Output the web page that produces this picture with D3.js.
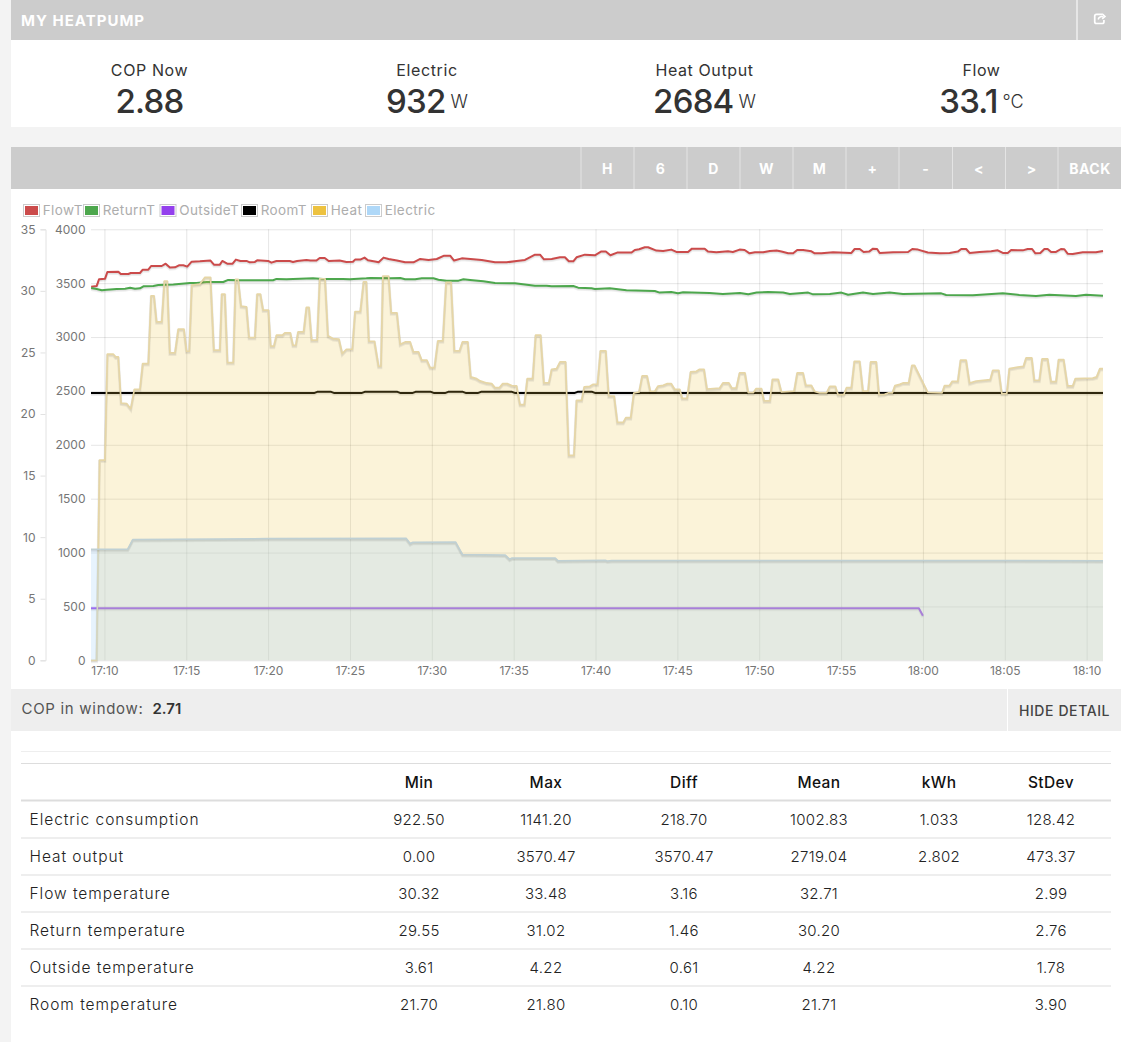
<!DOCTYPE html>
<html>
<head>
<meta charset="utf-8">
<title>My Heatpump</title>
<script src="https://cdn.jsdelivr.net/npm/d3@7"></script>
<style>
    html, body { margin: 0; padding: 0; background: #f3f3f3; overflow: hidden; }
    svg { display: block; }
    text { font-family: Inter, "Noto Sans", sans-serif; }
    .tick-labels text { fill: #767676; font-size: 12px; }
    .grid line { stroke: #000; stroke-opacity: 0.1; }
    .grid path, .plain path { display: none; }
</style>
</head>
<body>
<div id="chart"></div>
<script>
// minutes after 17:00, value
const flowT = [[9.19,30.34],[9.53,30.40],[9.67,30.94],[10.04,30.99],[10.18,31.53],[10.85,31.56],[11.00,31.37],[11.46,31.37],[11.61,31.45],[12.17,31.45],[12.34,31.72],[12.68,31.72],[12.85,32.02],[13.50,32.02],[13.74,32.21],[14.00,31.89],[14.31,31.91],[14.55,32.08],[14.82,32.08],[15.06,31.97],[15.33,32.37],[15.83,32.40],[16.48,32.46],[16.69,32.13],[17.05,32.13],[17.20,32.43],[17.50,32.21],[17.83,32.21],[18.03,32.54],[18.31,32.43],[18.68,32.43],[18.88,32.32],[19.19,32.35],[19.33,32.48],[20.00,32.43],[20.20,32.29],[20.51,32.43],[21.32,32.43],[21.52,32.35],[21.77,32.43],[22.34,32.51],[22.58,32.46],[22.95,32.46],[23.15,32.67],[23.46,32.67],[23.70,32.43],[24.37,32.46],[24.78,32.35],[25.18,32.37],[25.31,32.54],[25.63,32.54],[25.89,32.70],[26.10,32.48],[26.61,32.37],
    [26.75,32.32],[27.05,32.70],[27.36,32.59],[27.87,32.46],[28.37,32.32],[28.88,32.32],[29.29,32.59],[29.80,32.51],[30.30,32.59],[30.75,32.86],[31.12,32.86],[31.36,32.46],[31.83,32.64],[32.54,32.56],[33.05,32.51],[33.86,32.32],[34.57,32.32],[35.18,32.43],[35.69,32.51],[36.30,32.94],[36.61,32.94],[36.85,32.56],[37.32,32.59],[37.83,32.73],[38.13,32.73],[38.37,32.40],[38.64,32.40],[38.84,32.73],[39.35,32.94],[39.96,32.89],[40.33,33.19],[40.63,33.19],[40.91,32.89],[41.32,33.11],[42.20,33.11],[42.40,33.32],[42.66,33.38],[43.01,33.54],[43.21,33.54],[43.72,33.27],[44.13,33.24],[44.63,33.35],[44.94,33.16],[45.65,33.16],[45.89,33.43],[46.67,33.43],[46.87,33.19],[47.38,33.13],[48.09,33.21],[48.39,33.16],[48.80,33.35],[49.11,33.32],[49.41,33.05],
    [49.74,33.13],[50.24,33.13],[50.65,33.24],[51.06,33.27],[51.36,33.19],[51.77,33.05],[52.07,33.05],[52.32,33.32],[52.68,33.32],[53.19,33.21],[53.39,33.05],[53.80,33.05],[54.51,33.13],[55.63,33.08],[55.83,33.40],[56.14,33.40],[56.38,33.16],[56.71,33.19],[56.95,33.43],[57.20,33.40],[57.36,33.08],[58.17,33.13],[59.09,33.16],[59.35,33.40],[59.70,33.35],[60.30,33.11],[61.02,33.05],[61.63,33.08],[62.13,33.19],[62.34,33.40],[62.64,33.40],[62.85,33.08],[63.46,33.16],[64.17,33.21],[64.57,33.29],[64.88,33.08],[65.18,33.08],[65.39,33.32],[66.10,33.29],[66.40,33.40],[66.67,33.40],[66.87,33.05],[67.17,33.08],[67.42,33.40],[67.62,33.40],[67.83,33.16],[68.13,33.16],[68.43,33.40],[68.64,33.38],[68.84,33.02],[69.15,33.00],[69.76,33.13],[70.57,33.13],[71.00,33.24]];

const returnT = [[9.19,30.24],[9.53,30.15],[9.84,30.05],[10.14,30.10],[10.75,30.15],[11.26,30.18],[11.57,30.26],[11.87,30.18],[12.17,30.21],[12.38,30.37],[12.99,30.40],[13.29,30.48],[14.21,30.51],[15.22,30.64],[15.63,30.64],[16.24,30.72],[17.26,30.72],[17.56,30.89],[18.27,30.86],[20.30,30.86],[20.51,30.97],[21.12,30.94],[22.74,31.02],[23.35,30.97],[24.57,30.97],[24.98,30.94],[26.00,31.02],
    [26.24,31.05],[27.46,31.02],[28.07,31.05],[28.37,30.94],[28.98,30.94],[29.39,31.02],[30.10,31.02],[30.41,30.91],[30.91,30.83],[31.63,30.83],[31.93,30.94],[32.34,30.89],[33.15,30.78],[33.86,30.64],[35.08,30.61],[36.30,30.42],[37.01,30.42],[37.32,30.37],[38.64,30.40],[38.94,30.26],[39.76,30.21],[39.96,30.15],[40.87,30.21],[41.89,30.05],[43.62,29.99],[43.92,29.86],[44.63,29.91],[45.04,29.80],[45.35,29.88],[46.97,29.83],[47.78,29.75],[48.82,29.83],
    [49.33,29.72],[49.84,29.86],[50.55,29.91],[51.46,29.86],[51.87,29.75],[52.99,29.86],[53.29,29.72],[54.31,29.75],[55.02,29.86],[55.43,29.69],[56.34,29.86],[56.95,29.75],[57.97,29.86],[58.78,29.75],[61.12,29.80],[61.42,29.67],[63.05,29.64],[64.88,29.80],[65.89,29.67],[66.91,29.59],[67.72,29.69],[69.35,29.59],[69.96,29.69],[71.00,29.61]];

const outsideT = [[9.18,4.22],[59.75,4.22],[60.00,3.61]];

const roomT = [[9.18,21.7],[22.8,21.7],[23.0,21.8],[23.85,21.8],[24.05,21.7],[25.7,21.7],[25.9,21.8],[27.9,21.8],[28.1,21.7],[28.8,21.7],[29.0,21.8],[29.95,21.8],[30.15,21.7],[30.8,21.7],[31.0,21.8],[31.9,21.8],[32.1,21.7],[32.8,21.7],[33.0,21.8],[34.9,21.8],[35.1,21.7],[38.7,21.7],[38.9,21.8],[39.8,21.8],[40.0,21.7],[71.0,21.7]];

const heat = [[9.18,0],[9.52,0],[9.70,1858],[10.03,1858],[10.18,2841],[10.55,2841],[10.69,2816],[10.85,2816],[11.02,2388],[11.36,2382],[11.61,2335],[11.83,2515],[12.17,2515],[12.34,2754],[12.68,2754],[12.85,3383],[13.03,3383],[13.19,3141],[13.50,3141],[13.66,3520],[13.84,3520],[14.00,2853],[14.31,2853],[14.51,3073],[14.86,3073],[15.02,2868],[15.18,2868],[15.33,3482],[15.83,3492],[16.14,3554],[16.48,3554],[16.69,2878],[17.05,2878],[17.17,3399],[17.36,3399],[17.52,2763],[17.87,2763],[18.01,3535],[18.17,3535],[18.35,3287],[18.68,3281],[18.84,2996],[19.19,2996],[19.33,3399],[19.53,3399],[19.70,3250],[20.02,3250],[20.16,2915],[20.35,2915],[20.51,3017],[20.87,3017],[21.02,3039],[21.36,3039],[21.52,2924],[21.69,2924],[21.83,3048],[22.17,3048],[22.34,3275],[22.50,3275],[22.66,2971],[22.99,2971],[23.15,3541],[23.48,3541],[23.66,3011],[23.96,2986],[24.33,2980],[24.53,2847],[24.78,2887],[25.14,2887],[25.31,3237],[25.63,3237],[25.83,3513],[26.00,3513],[26.16,2961],[26.50,2961],
    [26.75,2729],[26.89,2729],[27.01,3566],[27.36,3566],[27.52,3225],[27.87,3225],[28.07,2934],[28.37,2955],[28.68,2955],[28.88,2862],[29.19,2862],[29.39,2785],[29.70,2785],[29.90,2717],[30.16,2717],[30.37,2965],[30.67,2965],[30.87,3507],[31.18,3507],[31.38,2872],[31.69,2872],[31.87,2955],[32.20,2955],[32.38,2630],[32.74,2614],[32.95,2593],[33.35,2574],[33.66,2568],[33.86,2531],[34.13,2531],[34.33,2568],[34.61,2568],[34.88,2549],[35.18,2546],[35.39,2373],[35.65,2373],[35.83,2614],[36.16,2614],[36.34,3017],[36.65,3017],[36.85,2574],[37.15,2574],[37.32,2701],[37.62,2707],[37.83,2769],[38.17,2769],[38.37,1901],[38.68,1901],[38.84,2413],[39.15,2413],[39.31,2537],[39.65,2543],[39.86,2562],[40.12,2562],[40.30,2872],[40.63,2872],[40.81,2453],[41.14,2453],[41.34,2208],[41.69,2208],[41.85,2252],[42.15,2252],[42.34,2481],[42.66,2490],[42.85,2639],[43.15,2639],[43.35,2497],[43.62,2497],[43.82,2546],[44.13,2552],[44.39,2568],[44.63,2568],[44.84,2515],[45.14,2515],[45.30,2431],[45.59,2431],[45.81,2676],[46.16,2682],[46.36,2701],[46.63,2701],[46.81,2518],[47.58,2527],[47.78,2574],[48.15,2574],[48.33,2527],[48.60,2527],[48.80,2667],
    [49.13,2667],[49.33,2484],[49.63,2484],[49.80,2521],[50.14,2521],[50.30,2407],[50.65,2407],[50.81,2608],[51.16,2608],[51.36,2490],[52.13,2499],[52.32,2667],[52.68,2667],[52.85,2552],[53.19,2552],[53.39,2496],[53.70,2481],[54.11,2481],[54.31,2543],[54.65,2543],[54.82,2465],[55.16,2465],[55.33,2530],[55.63,2530],[55.81,2775],[56.14,2775],[56.34,2499],[56.65,2499],[56.81,2769],[57.15,2769],[57.32,2465],[57.66,2468],[57.87,2481],[58.13,2481],[58.29,2549],[58.58,2561],[58.78,2574],[59.13,2574],[59.33,2738],[59.49,2738],[60.30,2487],[61.16,2481],[61.32,2549],[61.63,2552],[61.79,2589],[62.13,2589],[62.30,2785],[62.64,2785],[62.85,2574],[63.25,2592],[64.11,2605],[64.27,2692],[64.63,2692],[64.82,2475],[65.12,2475],[65.28,2707],[65.79,2722],[66.14,2729],[66.30,2806],[66.65,2806],[66.81,2599],[67.11,2599],[67.28,2797],[67.62,2797],[67.83,2586],[68.13,2586],[68.29,2791],[68.60,2791],[68.84,2546],[69.15,2546],[69.31,2614],[70.37,2620],[70.61,2630],[70.81,2707],[71.00,2707]];

const electric = [[9.18,1031],[11.42,1031],[11.73,1121],[20.00,1130],[28.43,1133],[28.68,1084],[28.84,1096],[31.45,1099],[31.88,981],[34.49,978],[34.76,938],[34.90,950],[37.54,950],[37.70,925],[40.59,929],[40.73,922],[40.99,926],[71.00,925]];

const tempTicks = [0, 5, 10, 15, 20, 25, 30, 35];
const powerTicks = [0, 500, 1000, 1500, 2000, 2500, 3000, 3500, 4000];
const timeTicks = [10, 15, 20, 25, 30, 35, 40, 45, 50, 55, 60, 65, 70];
const timeLabels = ["17:10", "17:15", "17:20", "17:25", "17:30", "17:35", "17:40", "17:45", "17:50", "17:55", "18:00", "18:05", "18:10"];

const legendNames = ["FlowT", "ReturnT", "OutsideT", "RoomT", "Heat", "Electric"];
const legendColors = ["#cb4b4b", "#4da74d", "#9440ed", "#000000", "#edc240", "#afd8f8"];
const legendLeft = [23, 83, 159.5, 241, 311, 365];

const navLabels = ["H", "6", "D", "W", "M", "+", "-", "<", ">", "BACK"];
const navEdges = [581, 634, 687, 740, 793, 846, 899, 952.5, 1005.5, 1058, 1121];

const statNames = ["COP Now", "Electric", "Heat Output", "Flow"];
const statValues = ["2.88", "932", "2684", "33.1"];
const statUnits = ["", "W", "W", "°C"];
const statCentres = [149.5, 427, 704.5, 981.5];

const tableHeads = ["Min", "Max", "Diff", "Mean", "kWh", "StDev"];
const tableCentres = [419, 546, 684, 819, 939, 1051];
const rowNames = ["Electric consumption", "Heat output", "Flow temperature", "Return temperature", "Outside temperature", "Room temperature"];
const minValues = ["922.50", "0.00", "30.32", "29.55", "3.61", "21.70"];
const maxValues = ["1141.20", "3570.47", "33.48", "31.02", "4.22", "21.80"];
const diffValues = ["218.70", "3570.47", "3.16", "1.46", "0.61", "0.10"];
const meanValues = ["1002.83", "2719.04", "32.71", "30.20", "4.22", "21.71"];
const kwhValues = ["1.033", "2.802", "", "", "", ""];
const stdevValues = ["128.42", "473.37", "2.99", "2.76", "1.78", "3.90"];

const width = 1121, height = 1042;
const plot = { left: 91, right: 1103, top: 229.3, bottom: 660.3 };

const svg = d3.select("#chart").append("svg")
    .attr("width", width)
    .attr("height", height)
    .attr("viewBox", `0 0 ${width} ${height}`);

const rect = (x, y, w, h, fill) => svg.append("rect")
    .attr("x", x).attr("y", y).attr("width", w).attr("height", h).attr("fill", fill);

const label = (x, y, str, size, fill, anchor = "start", weight = 400, spacing = 0) => svg.append("text")
    .attr("x", x).attr("y", y)
    .attr("font-size", size)
    .attr("font-weight", weight)
    .attr("fill", fill)
    .attr("text-anchor", anchor)
    .attr("letter-spacing", spacing)
    .attr("dominant-baseline", "central")
    .text(str);

// page panels
rect(11, 0, 1110, 127, "#fff");
rect(11, 147, 1110, 895, "#fff");
rect(11, 0, 1110, 40, "#ccc");
rect(1076.5, 0, 1, 40, "#fff");
rect(11, 147, 1110, 42, "#ccc");
rect(11, 689, 1110, 42, "#eee");
rect(1007, 689, 1, 42, "#fff");

label(21, 20, "MY HEATPUMP", 15, "#fff", "start", 700, 1);
svg.append("g")
    .attr("transform", "translate(1093,12) scale(1.15)")
    .attr("fill", "none")
    .attr("stroke", "#fff")
    .attr("stroke-width", 1.5)
    .call(g => g.append("path").attr("d", "M8 2H3a1.5 1.5 0 0 0-1.5 1.5v5A1.5 1.5 0 0 0 3 10h5a1.5 1.5 0 0 0 1.5-1.5V7"))
    .call(g => g.append("path").attr("d", "M4.5 6.5C5 4.5 7 3.8 9 3.8M8 1.5l2.5 2.3L8 6").attr("stroke-width", 1.3));

// stats row
statNames.forEach((name, i) => {
    label(statCentres[i], 70, name, 16, "#333", "middle", 400, 0.6);
    const t = label(statCentres[i], 101, statValues[i], 33, "#333", "middle", 500, -0.8);
    if (statUnits[i]) {
        t.append("tspan")
            .attr("font-size", 18)
            .attr("font-weight", 300)
            .attr("letter-spacing", 0)
            .attr("dx", 5)
            .text(statUnits[i]);
    }
});

// nav buttons
navLabels.forEach((name, i) => {
    rect(navEdges[i] - 0.5, 147, 1, 42, "#e4e4e4");
    label((navEdges[i] + navEdges[i + 1]) / 2 + (i === 9 ? 0.5 : 0), 168.5, name, 14, "#fff", "middle", 700, 0.5);
});

// legend
legendNames.forEach((name, i) => {
    const x = legendLeft[i];
    svg.append("rect")
        .attr("x", x + 0.5).attr("y", 204.5).attr("width", 16).attr("height", 12)
        .attr("fill", "#fff").attr("stroke", "#ccc");
    rect(x + 2, 206, 13, 9, legendColors[i]);
    label(x + 19.7, 210, name, 13.5, "#adadad", "start", 400, 0.4);
});

const x = d3.scaleLinear().domain([9.18, 71]).range([plot.left, plot.right]);
const yTemp = d3.scaleLinear().domain([0, 35]).range([plot.bottom, plot.top]);
const yPower = d3.scaleLinear().domain([0, 4000]).range([plot.bottom, plot.top]);

// grid
svg.append("g")
    .attr("class", "grid")
    .attr("transform", `translate(${plot.left},0)`)
    .call(d3.axisLeft(yPower).tickValues(powerTicks).tickSize(-(plot.right - plot.left)).tickFormat(""));

svg.append("g")
    .attr("class", "grid")
    .attr("transform", `translate(0,${plot.bottom})`)
    .call(d3.axisBottom(x).tickValues(timeTicks).tickSize(-(plot.bottom - plot.top)).tickFormat(""));

// axes
const tempAxis = svg.append("g")
    .attr("class", "tick-labels")
    .attr("transform", "translate(45.5,0)")
    .call(d3.axisLeft(yTemp).tickValues(tempTicks).tickSize(5).tickPadding(5));
tempAxis.selectAll("path, line").attr("stroke", "#e2e2e2");

svg.append("g")
    .attr("class", "tick-labels plain")
    .attr("transform", "translate(85.5,0)")
    .call(d3.axisLeft(yPower).tickValues(powerTicks).tickSize(0).tickPadding(0).tickFormat(d3.format("d")));

svg.append("g")
    .attr("class", "tick-labels plain")
    .attr("transform", `translate(0,${plot.bottom})`)
    .call(d3.axisBottom(x).tickValues(timeTicks).tickSize(0).tickPadding(6)
        .tickFormat((d, i) => timeLabels[i]));

// series, flot style: a faint shadow under every line
const drawLine = (data, y, color, lineWidth = 2) => {
    const line = d3.line().x(d => x(d[0])).y(d => y(d[1]));
    [[3, 1.5], [2, 1]].forEach(([w, dy]) => {
        svg.append("path")
            .datum(data)
            .attr("fill", "none")
            .attr("stroke", "#000")
            .attr("stroke-opacity", 0.06)
            .attr("stroke-width", w)
            .attr("transform", `translate(0,${dy})`)
            .attr("d", line);
    });
    svg.append("path")
        .datum(data)
        .attr("fill", "none")
        .attr("stroke", color)
        .attr("stroke-width", lineWidth)
        .attr("stroke-linejoin", "round")
        .attr("d", line);
};

const drawArea = (data, color, alpha) => {
    svg.append("path")
        .datum(data)
        .attr("fill", color)
        .attr("fill-opacity", alpha)
        .attr("d", d3.area().x(d => x(d[0])).y0(plot.bottom).y1(d => yPower(d[1])));
};

drawLine(flowT, yTemp, "#cb4b4b");
drawLine(returnT, yTemp, "#4da74d");
drawLine(outsideT, yTemp, "#9440ed");
drawLine(roomT, yTemp, "#000");

drawArea(heat, "#edc240", 0.2);
drawLine(heat, yPower, "#e6d6a6", 1.7);
drawArea(electric, "#afd8f8", 0.3);
drawLine(electric, yPower, "#bfd0d4", 1.5);

// window bar
label(21.5, 708, "COP in window: ", 15, "#555", "start", 400, 0.7)
    .append("tspan").attr("font-weight", 600).attr("fill", "#333").attr("letter-spacing", 0).attr("dx", 4).text("2.71");
label(1064.5, 710, "HIDE DETAIL", 14, "#444", "middle", 500, 0.6);

// stats table
const tableLine = (y, w, color) => rect(21, y, 1090, w, color);
tableLine(751, 1, "#eee");
tableLine(763, 1, "#ddd");
tableLine(799.5, 2, "#ddd");

const columns = [minValues, maxValues, diffValues, meanValues, kwhValues, stdevValues];
tableHeads.forEach((head, c) => label(tableCentres[c], 782, head, 15.5, "#111", "middle", 500, 0.4));

rowNames.forEach((name, r) => {
    const y = 819.5 + r * 37;
    label(29.5, y, name, 15.5, "#222", "start", 300, 0.95);
    columns.forEach((col, c) => label(tableCentres[c], y, col[r], 15, "#222", "middle", 300, 0.3));
    if (r < rowNames.length - 1) tableLine(y + 18, 1, "#ddd");
});
</script>
</body>
</html>
